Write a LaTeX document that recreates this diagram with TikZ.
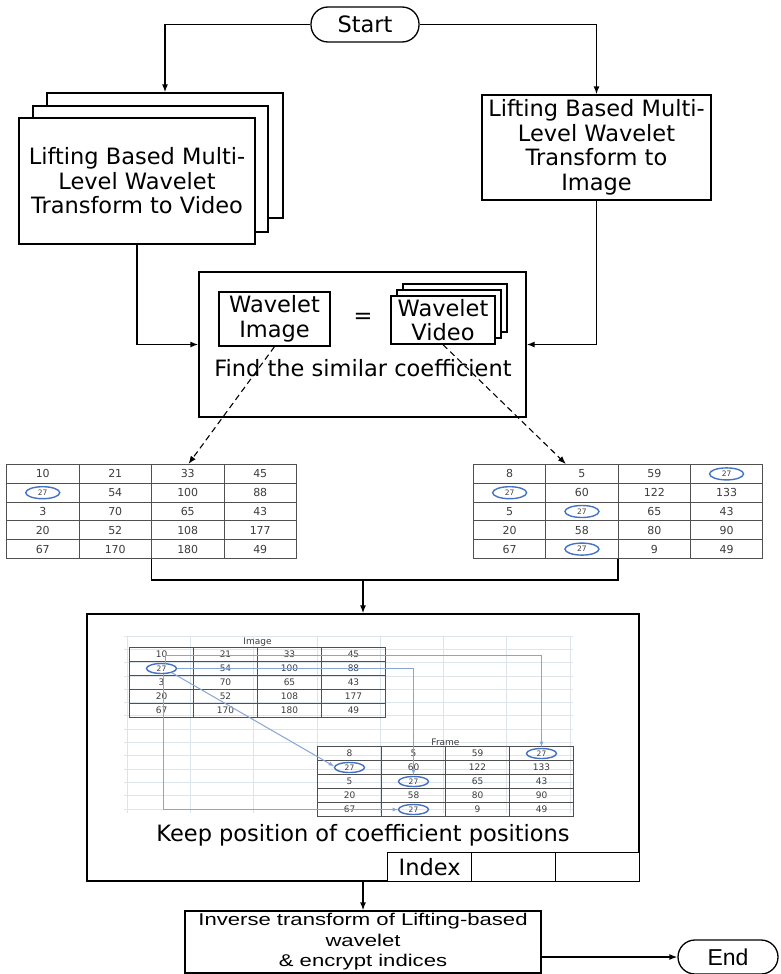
\documentclass[tikz,border=0pt]{standalone}
\usepackage{fontspec}
\setmainfont{DejaVu Sans}
\newfontfamily\arialfont{Liberation Sans}
\newfontfamily\arialwide[FakeStretch=1.3]{Liberation Sans}
\usetikzlibrary{arrows.meta,positioning,calc,matrix}
\definecolor{cellgray}{RGB}{80,80,80}
\definecolor{celltext}{RGB}{60,60,60}
\definecolor{markblue}{RGB}{68,114,196}
\definecolor{linkblue}{RGB}{135,165,215}
\definecolor{gridgray}{RGB}{222,228,236}
\tikzset{
  wvbox/.style={draw=black, line width=1.3pt, fill=white, align=center, inner sep=0pt, font=\fontsize{22.5}{24.5}\selectfont},
  wvpill/.style={wvbox, rounded corners=17pt},
  wvidx/.style={wvbox, outer sep=0pt, minimum width=84pt, minimum height=29pt},
  wvline/.style={-{Latex[length=8pt,width=6pt]}, line width=1.3pt},
  wvdash/.style={wvline, line width=1.1pt, dash pattern=on 6pt off 4pt},
  wvcell/.style={draw=cellgray, line width=1pt, inner sep=0pt, outer sep=0pt, text=celltext, anchor=center},
  wvtab/.style={matrix of nodes, inner sep=0pt, outer sep=0pt, column sep=-1pt, row sep=-1pt, anchor=north west},
  wvsmall/.style={font=\fontsize{7.5}{7.5}\selectfont},
  wvmark/.style={draw=markblue, line width=1.4pt},
  wvlink/.style={draw=linkblue, line width=1pt, -{Latex[length=6pt,width=4pt]}}
}
\begin{document}
\begin{tikzpicture}[x=1pt,y=-1pt]
  \useasboundingbox (0,0) rectangle (780,974);

  \node[wvpill, minimum width=108pt, minimum height=35pt] (start) at (365,24.5) {Start};
  \node[wvbox, minimum width=236pt, minimum height=125pt] (vid3) at (165,155.5) {};
  \node[wvbox, minimum width=235pt, minimum height=126pt] (vid2) at (150.5,169) {};
  \node[wvbox, minimum width=236pt, minimum height=126pt] (vid) at (137,181) {Lifting Based Multi-\\Level Wavelet\\Transform to Video};
  \node[wvbox, minimum width=229pt, minimum height=105pt] (img) at (596.5,147.5) {Lifting Based Multi-\\Level Wavelet\\Transform to\\Image};

  \draw[wvline] (start.west) -| (vid3.north);
  \draw[wvline] (start.east) -| (img.north);

  \node[wvbox, minimum width=327pt, minimum height=145pt] (find) at (362.5,344.5) {};
  \node[wvbox, minimum width=111pt, minimum height=54pt] (wimg) at (274.5,319) {Wavelet\\Image};
  \node[font=\fontsize{22.5}{24}\selectfont] (eq) at (363,318) {=};
  \node[wvbox, minimum width=104pt, minimum height=48pt] (wvid3) at (455,308) {};
  \node[wvbox, minimum width=104pt, minimum height=48pt] (wvid2) at (449,314) {};
  \node[wvbox, minimum width=104pt, minimum height=48pt] (wvid) at (443,320) {Wavelet\\Video};
  \node[font=\fontsize{22.5}{24}\selectfont] (findtxt) at (363,368) {Find the similar coefficient};

  \draw[wvline] (vid.south) |- (find.west);
  \draw[wvline] (img.south) |- (find.east);

  \matrix[wvtab, nodes={wvcell, minimum width=72.5pt, minimum height=18.8pt, font=\fontsize{11}{11}\selectfont}] (tabL) at (6,464) {
    10 & 21 & 33 & 45 \\
    |[wvsmall]| 27 & 54 & 100 & 88 \\
    3 & 70 & 65 & 43 \\
    20 & 52 & 108 & 177 \\
    67 & 170 & 180 & 49 \\
  };
  \matrix[wvtab, nodes={wvcell, minimum width=72.3pt, minimum height=18.8pt, font=\fontsize{11}{11}\selectfont}] (tabR) at (473,464) {
    8 & 5 & 59 & |[wvsmall]| 27 \\
    |[wvsmall]| 27 & 60 & 122 & 133 \\
    5 & |[wvsmall]| 27 & 65 & 43 \\
    20 & 58 & 80 & 90 \\
    67 & |[wvsmall]| 27 & 9 & 49 \\
  };
  \draw[wvmark] (tabL-2-1) ellipse (17pt and 6pt);
  \foreach \cell in {1-4,2-1,3-2,5-2}
    \draw[wvmark] (tabR-\cell) ellipse (17pt and 6pt);

  \coordinate (tabLin) at ($(tabL.north west)!0.627!(tabL.north east)$);
  \coordinate (tabRin) at ($(tabR.north west)!0.32!(tabR.north east)$);
  \draw[wvdash] (wimg.south) -- (tabLin);
  \draw[wvdash] (wvid.south) -- (tabRin);

  \node[wvbox, minimum width=552pt, minimum height=267pt] (keep) at (363,747.5) {};
  \coordinate (merge) at (363,580);
  \draw[line width=1.3pt] (tabL-5-3.south west) |- (merge) -| (tabR-5-3.south west);
  \draw[wvline] (merge) -- (keep.north);

  \foreach \gx in {0,...,7}
    \draw[gridgray, line width=0.8pt] (127+63.3*\gx,636) -- (127+63.3*\gx,813);
  \foreach \gy in {0,...,13}
    \draw[gridgray, line width=0.8pt] (124,636+13.3*\gy) -- (573,636+13.3*\gy);

  \matrix[wvtab, nodes={wvcell, minimum width=64pt, minimum height=14pt, font=\fontsize{9}{9}\selectfont}] (imgT) at (129,647) {
    10 & 21 & 33 & 45 \\
    |[wvsmall]| 27 & 54 & 100 & 88 \\
    3 & 70 & 65 & 43 \\
    20 & 52 & 108 & 177 \\
    67 & 170 & 180 & 49 \\
  };
  \matrix[wvtab, nodes={wvcell, minimum width=64pt, minimum height=14pt, font=\fontsize{9}{9}\selectfont}] (frmT) at (317,746) {
    8 & 5 & 59 & |[wvsmall]| 27 \\
    |[wvsmall]| 27 & 60 & 122 & 133 \\
    5 & |[wvsmall]| 27 & 65 & 43 \\
    20 & 58 & 80 & 90 \\
    67 & |[wvsmall]| 27 & 9 & 49 \\
  };
  \node[text=celltext, font=\fontsize{9}{9}\selectfont, inner sep=1pt, above=0pt of imgT-1-2.north east] (imglab) {Image};
  \node[text=celltext, font=\fontsize{9}{9}\selectfont, inner sep=1pt, above=0pt of frmT-1-2.north east] (frmlab) {Frame};

  \draw[wvmark] (imgT-2-1) ellipse (15pt and 5pt);
  \foreach \cell in {1-4,2-1,3-2,5-2}
    \draw[wvmark] (frmT-\cell) ellipse (15pt and 5pt);

  \draw[wvlink] ($(imgT-2-1)+(10,4)$) -- ($(frmT-2-1)+(-15,-1)$);
  \draw[wvlink] ($(imgT-2-1)+(15,0)$) -| ($(frmT-3-2)+(0,-6)$);
  \draw[wvlink] ($(imgT-2-1)+(4,-5)$) -- ($(imgT-1-1)+(4,1)$) -| ($(frmT-1-4)+(0,-6)$);
  \draw[wvlink] ($(imgT-2-1)+(2,5)$) |- ($(frmT-5-2)+(-15,0)$);

  \node[font=\fontsize{22.5}{24}\selectfont] (keeptxt) at (363,835) {Keep position of coefficient positions};
  \node[wvidx, anchor=south east] (idx3) at (keep.south east) {};
  \node[wvidx, anchor=east] (idx2) at (idx3.west) {};
  \node[wvidx, anchor=east] (idx1) at (idx2.west) {Index};

  \node[wvbox, minimum width=356pt, minimum height=62pt, font=\arialwide\fontsize{17}{20.5}\selectfont] (inv) at (363,942) {Inverse transform of Lifting-based\\wavelet\\\& encrypt indices};
  \node[wvpill, minimum width=100pt, minimum height=34pt, font=\arialfont\fontsize{23}{24}\selectfont] (endn) at (728,957) {End};

  \draw[wvline] (keep.south) -- (inv.north);
  \draw[wvline] (inv.east |- endn.west) -- (endn.west);
\end{tikzpicture}
\end{document}
